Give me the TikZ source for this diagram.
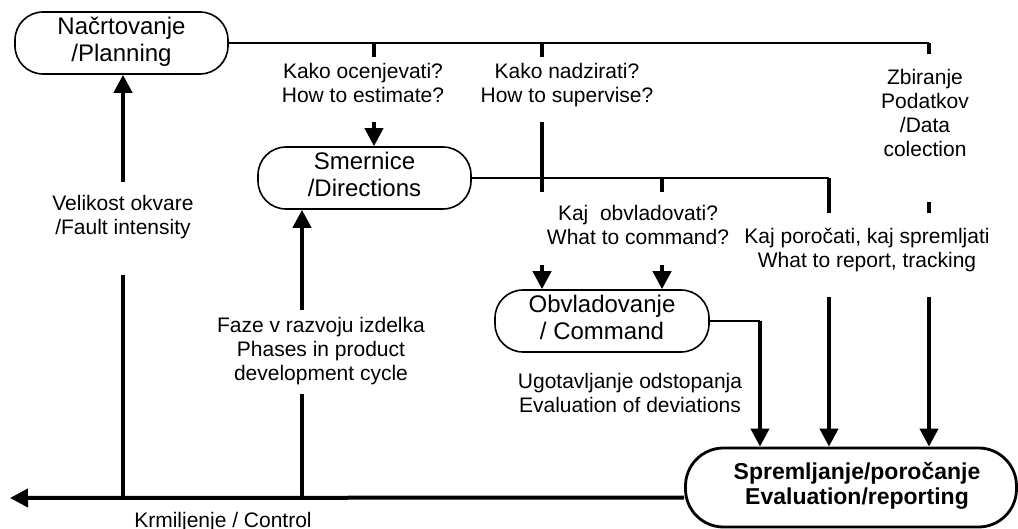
\documentclass[tikz,border=0pt]{standalone}
\usepackage{fontspec}
\setmainfont{Liberation Sans}
\usetikzlibrary{arrows.meta}

\begin{document}
\begin{tikzpicture}[x=1pt,y=-1pt,
  phase/.style={draw, line width=1.6pt, rounded corners=28pt,
    minimum width=213pt, minimum height=62pt, inner sep=0pt, align=center,
    font=\fontsize{24}{27}\selectfont,
    execute at begin node=\strut, execute at end node=\strut},
  lbl/.style={inner sep=0pt, align=center, font=\fontsize{21}{24}\selectfont,
    execute at begin node=\strut, execute at end node=\strut},
  flow/.style={line width=4pt},
  link/.style={line width=2.2pt},
  tip/.style={-{Triangle[length=18pt,width=18pt]}},
]
\useasboundingbox (0,0) rectangle (1018,529);

% stages
\node[phase] (Plan) at (121.5,43) {Načrtovanje\\/Planning};
\node[phase] (Dir) at (364.5,178) {Smernice\\/Directions};
\node[phase, minimum width=214pt] (Cmd) at (602,321) {Obvladovanje\\/ Command};
\node[phase, rounded corners=38pt, line width=2.8pt, minimum width=331pt,
  minimum height=79pt, font=\bfseries\fontsize{23}{25}\selectfont]
  (Eval) at (851,487.5) {\hspace*{12pt}Spremljanje/poročanje\\\hspace*{12pt}Evaluation/reporting};

% labels
\node[lbl] (qEst) at (363,86.2) {Kako ocenjevati?\\How to estimate?};
\node[lbl] (qSup) at (567,86.2) {Kako nadzirati?\\How to supervise?};
\node[lbl] (qData) at (925,116.2) {Zbiranje\\Podatkov\\/Data\\colection};
\node[lbl] (qCmd) at (638,228.7) {Kaj~~obvladovati?\\What to command?};
\node[lbl] (qRep) at (867,251.7) {Kaj poročati, kaj spremljati\\What to report, tracking};
\node[lbl] (qFault) at (123,218) {Velikost okvare\\/Fault intensity};
\node[lbl] (qPhase) at (321,352.2) {Faze v razvoju izdelka\\Phases in product\\development cycle};
\node[lbl] (qDev) at (630,396.7) {Ugotavljanje odstopanja\\Evaluation of deviations};
\node[lbl] (qCtl) at (223,523) {Krmiljenje / Control};

% junction points
\coordinate (topR) at (929,43);
\coordinate (e1) at (374,122);
\coordinate (dR) at (829,178);
\coordinate (c1) at (542,265);
\coordinate (c2) at (662,265);
\coordinate (cR) at (760,321);
\coordinate (r1) at (829,297);
\coordinate (r2) at (929,297);
\coordinate (ctlEnd) at (10,498);
\coordinate (f1) at (123,182);
\coordinate (p1) at (302,310);

% planning line and its branches
\draw[link] (Plan.east) -- (topR);
\draw[flow] (topR) -- ++(0,11);
\draw[flow] (374,43) -- ++(0,14);
\draw[flow] (542,43) -- ++(0,14);
\draw[flow,tip] (e1) -- (e1 |- Dir.north);
\draw[flow] (542,122) -- (542,192);

% directions line and its branches
\draw[link] (Dir.east) -- (dR);
\draw[flow] (dR) -- (829,213);
\draw[flow] (662,178) -- (662,192);
\draw[flow] (929,202) -- (929,213);
\draw[flow,tip] (c1) -- (c1 |- Cmd.north);
\draw[flow,tip] (c2) -- (c2 |- Cmd.north);

% into evaluation
\draw[link] (Cmd.east) -- (cR);
\draw[flow,tip] (cR) -- (cR |- Eval.north);
\draw[flow,tip] (r1) -- (r1 |- Eval.north);
\draw[flow,tip] (r2) -- (r2 |- Eval.north);

% control feedback
\draw[flow,tip] ([yshift=-10pt]Eval.west) -- (ctlEnd);
\draw[line width=3.5pt] (123,498) -- (123,275);
\draw[flow,tip] (f1) -- (f1 |- Plan.south);
\draw[line width=3.5pt] (302,498) -- (302,394);
\draw[flow,tip] (p1) -- (p1 |- Dir.south);
\end{tikzpicture}
\end{document}
